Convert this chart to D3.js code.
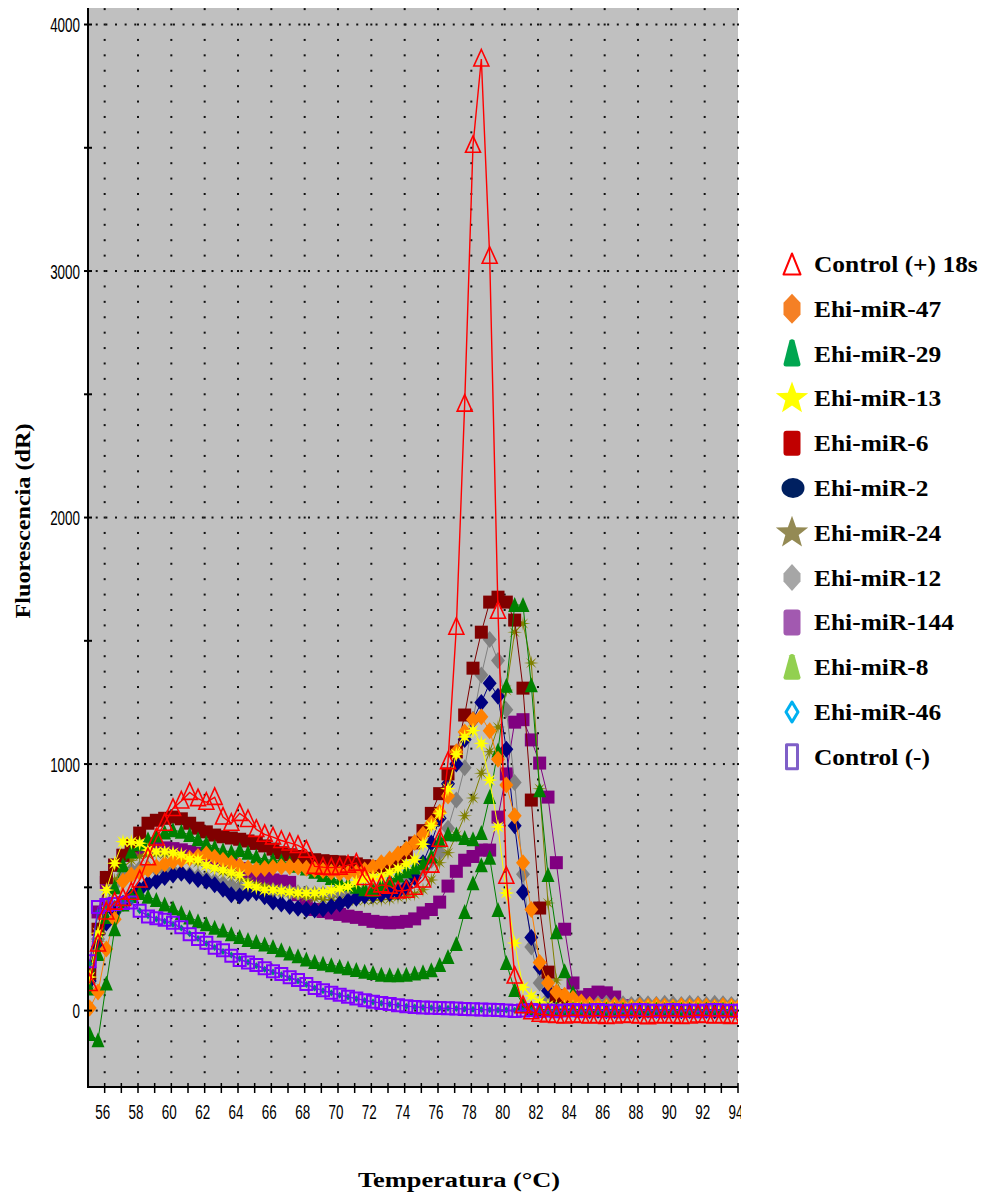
<!DOCTYPE html>
<html>
<head>
<meta charset="utf-8">
<script src="https://cdn.jsdelivr.net/npm/d3@7"></script>
<style>
  html, body { margin: 0; padding: 0; background: #fff; }
  svg { display: block; }
</style>
</head>
<body>
<svg id="chart" width="991" height="1196"></svg>
<script>
// ---------------------------------------------------------------
// Melt-curve data: -R'(T) fluorescence derivative per sample
// ---------------------------------------------------------------
const temperatures = [
  55.1, 55.6, 56.1, 56.6, 57.1, 57.6, 58.1, 58.6, 59.1, 59.6,
  60.1, 60.6, 61.1, 61.6, 62.1, 62.6, 63.1, 63.6, 64.1, 64.6,
  65.1, 65.6, 66.1, 66.6, 67.1, 67.6, 68.1, 68.6, 69.1, 69.6,
  70.1, 70.6, 71.1, 71.6, 72.1, 72.6, 73.1, 73.6, 74.1, 74.6,
  75.1, 75.6, 76.1, 76.6, 77.1, 77.6, 78.1, 78.6, 79.1, 79.6,
  80.1, 80.6, 81.1, 81.6, 82.1, 82.6, 83.1, 83.6, 84.1, 84.6,
  85.1, 85.6, 86.1, 86.6, 87.1, 87.6, 88.1, 88.6, 89.1, 89.6,
  90.1, 90.6, 91.1, 91.6, 92.1, 92.6, 93.1, 93.6, 94.1
];

const ctrlPos = [
  110, 270, 400, 440, 455, 480, 530, 620, 700, 760,
  820, 850, 885, 860, 845, 865, 785, 760, 800, 775,
  735, 715, 704, 690, 680, 670, 651, 585, 582, 580,
  582, 590, 598, 540, 495, 510, 505, 485, 488, 500,
  530, 590, 695, 1010, 1555, 2460, 3510, 3860, 3060, 1620,
  545, 140, 20, -5, -15, -18, -20, -22, -18, -20,
  -22, -20, -24, -22, -18, -20, -22, -25, -20, -22,
  -20, -24, -22, -18, -20, -22, -20, -24, -22
];

const mir47 = [
  10, 75, 250, 370, 525, 550, 560, 572, 582, 595,
  605, 612, 618, 625, 635, 622, 610, 598, 588, 578,
  572, 576, 580, 583, 583, 582, 577, 572, 568, 562,
  557, 557, 560, 570, 582, 600, 615, 635, 655, 682,
  715, 760, 805, 870, 1050, 1130, 1180, 1192, 1135, 1020,
  915, 790, 600, 410, 195, 112, 75, 62, 50, 35,
  25, 20, 18, 22, 18, 15, 20, 18, 22, 18,
  15, 20, 18, 22, 18, 15, 20, 18, 20
];

const mir29 = [
  90, 230, 380, 500, 590, 645, 675, 695, 710, 722,
  732, 725, 712, 695, 679, 663, 650, 643, 651, 640,
  625, 612, 610, 606, 598, 588, 576, 563, 550, 538,
  525, 512, 502, 492, 489, 505, 529, 548, 565, 580,
  598, 625, 690, 715, 714, 700, 695, 720, 866, 1055,
  1318, 1645, 1645, 1320, 894, 550, 318, 160, 71, 30,
  12, 6, 4, 6, 3, 5, 6, 4, 5, 3,
  6, 4, 5, 3, 6, 4, 5, 6, 4
];

const mir13 = [
  136, 314, 489, 598, 685, 684, 679, 651, 645, 645,
  640, 632, 615, 612, 590, 578, 570, 560, 550, 510,
  500, 489, 489, 485, 481, 478, 477, 477, 480, 487,
  495, 502, 522, 533, 541, 545, 560, 576, 595, 612,
  675, 750, 800, 900, 1040, 1110, 1136, 1084, 935, 745,
  477, 274, 95, 60, 35, 20, 15, 12, 14, 10,
  12, 10, 13, 11, 9, 12, 10, 13, 11, 10,
  12, 10, 13, 11, 9, 12, 10, 12, 11
];

const mir6 = [
  150, 330, 540, 590, 630, 670, 720, 760, 772, 780,
  785, 778, 760, 740, 725, 712, 705, 700, 695, 688,
  678, 668, 655, 640, 632, 625, 618, 612, 608, 605,
  603, 600, 595, 588, 582, 582, 590, 610, 640, 680,
  730, 800, 880, 960, 1049, 1199, 1389, 1535, 1657, 1677,
  1657, 1584, 1308, 854, 416, 156, 60, 20, 6, 2,
  0, 2, -2, 0, 1, -1, 0, 2, 0, -1,
  0, 1, -1, 0, 2, 0, -1, 0, 1
];

const mir2 = [
  120, 260, 355, 400, 435, 462, 489, 515, 525, 540,
  550, 557, 545, 532, 525, 510, 492, 470, 465, 475,
  478, 462, 440, 432, 422, 415, 410, 408, 412, 422,
  432, 445, 456, 465, 470, 472, 475, 482, 500, 540,
  600, 680, 780, 920, 1000, 1100, 1180, 1250, 1328, 1275,
  1060, 750, 480, 296, 176, 80, 35, 15, 5, 2,
  0, 1, -1, 0, 2, 0, -1, 1, 0, 0,
  1, -1, 0, 2, 0, -1, 0, 1, 0
];

const mir24 = [
  110, 280, 430, 530, 580, 610, 625, 632, 635, 634,
  630, 622, 612, 600, 588, 575, 562, 550, 537, 524,
  512, 502, 493, 485, 478, 470, 462, 456, 451, 448,
  446, 445, 446, 447, 448, 450, 452, 460, 465, 472,
  490, 530, 600, 640, 710, 790, 862, 963, 1050, 1150,
  1300, 1535, 1570, 1410, 900, 436, 124, 45, 20, 12,
  10, 8, 12, 10, 8, 11, 9, 12, 10, 8,
  11, 9, 12, 10, 8, 11, 10, 9, 12
];

const mir12 = [
  130, 290, 430, 510, 550, 568, 575, 576, 574, 570,
  565, 559, 552, 544, 535, 525, 515, 506, 498, 493,
  490, 488, 485, 482, 480, 478, 476, 474, 473, 473,
  475, 478, 482, 487, 492, 497, 502, 510, 522, 545,
  575, 610, 640, 740, 854, 985, 1180, 1361, 1505, 1420,
  1220, 925, 553, 258, 112, 45, 25, 22, 25, 28,
  25, 28, 30, 26, 28, 25, 30, 28, 26, 30,
  28, 25, 30, 28, 26, 30, 28, 25, 28
];

const mir144 = [
  180, 400, 520, 590, 630, 645, 652, 658, 660, 660,
  657, 652, 645, 638, 628, 616, 603, 590, 576, 562,
  548, 538, 530, 525, 520, 470, 425, 410, 402, 396,
  390, 383, 378, 370, 362, 358, 356, 358, 362, 372,
  396, 410, 440, 505, 565, 610, 625, 651, 651, 785,
  960, 1170, 1180, 1098, 1004, 866, 600, 330, 112, 55,
  65, 75, 72, 55, 20, 5, 0, 2, 0, -1,
  0, 1, 0, -1, 0, 2, 0, 1, 0
];

const mir8 = [
  -95, -120, 110, 330, 430, 465, 477, 462, 449, 430,
  415, 396, 378, 362, 350, 336, 325, 310, 298, 286,
  278, 268, 258, 245, 232, 220, 207, 197, 190, 184,
  178, 172, 165, 158, 152, 145, 143, 143, 145, 150,
  155, 164, 185, 217, 270, 400, 517, 590, 620, 408,
  193, 83, 25, 8, 5, 3, 4, 2, 5, 3,
  4, 2, 5, 3, 4, 2, 5, 3, 4, 2,
  5, 3, 4, 2, 5, 3, 4, 3, 2
];

const mir46 = [
  190, 400, 425, 435, 440, 440, 405, 385, 372, 362,
  350, 335, 312, 292, 272, 256, 240, 225, 210, 196,
  182, 168, 156, 145, 132, 120, 106, 92, 80, 71,
  62, 55, 48, 41, 35, 30, 26, 22, 18, 15,
  13, 11, 10, 9, 8, 6, 5, 4, 3, 2,
  2, 1, 0, 1, 0, -1, 0, 1, 0, -1,
  0, 1, 0, 0, 1, 0, -1, 0, 1, 0,
  0, 1, 0, -1, 0, 1, 0, 0, 1
];

const ctrlNeg = [
  200, 420, 428, 432, 436, 438, 405, 382, 375, 368,
  356, 338, 310, 290, 275, 255, 245, 222, 205, 195,
  185, 172, 160, 148, 135, 124, 108, 92, 82, 72,
  64, 56, 49, 42, 36, 31, 27, 22, 18, 15,
  13, 11, 10, 9, 8, 6, 5, 4, 3, 2,
  0, -2, 0, 2, -2, 0, -3, 0, 2, -2,
  0, 2, -2, 0, -3, 0, 2, 0, -2, 0,
  2, -2, 0, -3, 0, 2, 0, -2, 0
];

const legendLabels = [
  "Control (+) 18s", "Ehi-miR-47", "Ehi-miR-29", "Ehi-miR-13",
  "Ehi-miR-6", "Ehi-miR-2", "Ehi-miR-24", "Ehi-miR-12",
  "Ehi-miR-144", "Ehi-miR-8", "Ehi-miR-46", "Control (-)"
];

const yTickValues = [0, 1000, 2000, 3000, 4000];
const yMinorTicks = [0, 500, 1000, 1500, 2000, 2500, 3000, 3500, 4000];
const xTickLabels = [56, 58, 60, 62, 64, 66, 68, 70, 72, 74, 76, 78, 80, 82, 84, 86, 88, 90, 92, 94];
const xMinorTicks = [56, 57, 58, 59, 60, 61, 62, 63, 64, 65, 66, 67, 68, 69, 70, 71, 72, 73, 74, 75,
                     76, 77, 78, 79, 80, 81, 82, 83, 84, 85, 86, 87, 88, 89, 90, 91, 92, 93, 94];

// ---------------------------------------------------------------
// Layout and scales
// ---------------------------------------------------------------
const W = 991, H = 1196;
const plot = { left: 88, right: 738, top: 8, bottom: 1087 };

const x = d3.scaleLinear().domain([55, 94]).range([plot.left, plot.right]);
const y = d3.scaleLinear().domain([-310, 4067]).range([plot.bottom, plot.top]);

const svg = d3.select("#chart");

svg.append("rect").attr("width", W).attr("height", H).attr("fill", "#ffffff");

const defs = svg.append("defs");
defs.append("clipPath").attr("id", "plot-clip")
  .append("rect")
  .attr("x", plot.left + 1).attr("y", plot.top)
  .attr("width", plot.right - plot.left - 1).attr("height", plot.bottom - plot.top - 1);
defs.append("clipPath").attr("id", "label-clip")
  .append("rect").attr("x", 0).attr("y", 0).attr("width", 741).attr("height", H);

// grey plotting field
svg.append("rect")
  .attr("x", plot.left).attr("y", plot.top)
  .attr("width", plot.right - plot.left).attr("height", plot.bottom - plot.top)
  .attr("fill", "#c0c0c0");

// dotted grid
const grid = svg.append("g").attr("fill", "#111");
yTickValues.forEach(v => {
  const yy = y(v);
  d3.range(plot.left + 8.7, plot.right, 9.65).forEach(px => {
    grid.append("rect").attr("x", px - 1).attr("y", yy - 1).attr("width", 2).attr("height", 2);
  });
});
xTickLabels.forEach(t => {
  const xx = x(t);
  d3.range(-250, 4070, 62.5).forEach(v => {
    const yy = y(v);
    if (yy < plot.top + 1 || yy > plot.bottom - 3) return;
    grid.append("rect").attr("x", xx - 1).attr("y", yy - 1).attr("width", 2).attr("height", 2);
  });
});

// ---------------------------------------------------------------
// Marker shapes
// ---------------------------------------------------------------
function starPath(n, rOuter, rInner) {
  const pts = [];
  for (let i = 0; i < 2 * n; i++) {
    const r = i % 2 ? rInner : rOuter;
    const a = -Math.PI / 2 + i * Math.PI / n;
    pts.push((r * Math.cos(a)).toFixed(2) + "," + (r * Math.sin(a)).toFixed(2));
  }
  return "M" + pts.join("L") + "Z";
}

const shapes = {
  triOpen: "M0,-9.5L7.5,7L-7.5,7Z",
  diamond: "M0,-8.5L7,0L0,8.5L-7,0Z",
  square: "M-6.5,-6.5H6.5V6.5H-6.5Z",
  triFill: "M0,-8L6.5,7L-6.5,7Z",
  star: starPath(8, 8, 3),
  starThin: starPath(8, 7.5, 2),
  sqOpen: "M-6,-6H6V6H-6Z",
  tiny: "M0,-3.5L3,0L0,3.5L-3,0Z"
};

// drawing order: first entry sits at the bottom
const seriesList = [
  { values: mir144, color: "#800080", shape: "square" },
  { values: mir12,  color: "#808080", shape: "diamond" },
  { values: mir24,  color: "#808000", shape: "starThin" },
  { values: mir2,   color: "#000080", shape: "diamond" },
  { values: mir6,   color: "#800000", shape: "square" },
  { values: mir29,  color: "#008000", shape: "triFill" },
  { values: mir47,  color: "#ff8000", shape: "diamond" },
  { values: mir13,  color: "#ffff00", shape: "star" },
  { values: mir8,   color: "#008000", shape: "triFill" },
  { values: mir46,  color: "#008080", shape: "tiny" },
  { values: ctrlNeg, color: "#8000ff", shape: "sqOpen", open: true, sw: 2 },
  { values: ctrlPos, color: "#ff0000", shape: "triOpen", open: true, sw: 1.6, lw: 1.4 }
];

const line = d3.line().x(d => x(d[0])).y(d => y(d[1]));

const marks = svg.append("g").attr("clip-path", "url(#plot-clip)");

seriesList.forEach(s => {
  const pts = temperatures.map((t, i) => [t, s.values[i]]);
  const g = marks.append("g");
  g.append("path")
    .attr("d", line(pts))
    .attr("fill", "none")
    .attr("stroke", s.color)
    .attr("stroke-width", s.lw || 1);
  g.selectAll("path.m")
    .data(pts)
    .join("path")
    .attr("class", "m")
    .attr("d", shapes[s.shape])
    .attr("transform", d => `translate(${x(d[0]).toFixed(2)},${y(d[1]).toFixed(2)})`)
    .attr("fill", s.open ? "none" : s.color)
    .attr("stroke", s.open ? s.color : "none")
    .attr("stroke-width", s.sw || 0);
});

// ---------------------------------------------------------------
// Axes
// ---------------------------------------------------------------
const axes = svg.append("g").attr("stroke", "#000");
axes.append("line")
  .attr("x1", plot.left).attr("x2", plot.left)
  .attr("y1", plot.top).attr("y2", plot.bottom + 1)
  .attr("stroke-width", 2);
axes.append("line")
  .attr("x1", plot.left - 1).attr("x2", plot.right)
  .attr("y1", plot.bottom).attr("y2", plot.bottom)
  .attr("stroke-width", 2);

yMinorTicks.forEach(v => {
  axes.append("line")
    .attr("x1", plot.left - 4).attr("x2", plot.left + 4)
    .attr("y1", y(v)).attr("y2", y(v))
    .attr("stroke-width", 2);
});
xMinorTicks.forEach(t => {
  axes.append("line")
    .attr("x1", x(t)).attr("x2", x(t))
    .attr("y1", plot.bottom - 4).attr("y2", plot.bottom + 6)
    .attr("stroke-width", 1.5);
});

const tickFont = "'Liberation Sans', Arial, sans-serif";
const yLab = svg.append("g")
  .attr("font-family", tickFont).attr("font-size", 21).attr("fill", "#000");
yTickValues.forEach(v => {
  yLab.append("text")
    .attr("transform", `translate(80,${y(v) + 7.5}) scale(0.64,1)`)
    .attr("text-anchor", "end")
    .text(v);
});

const xLab = svg.append("g")
  .attr("clip-path", "url(#label-clip)")
  .attr("font-family", tickFont).attr("font-size", 21).attr("fill", "#000");
xTickLabels.forEach(t => {
  xLab.append("text")
    .attr("transform", `translate(${x(t) - 2},${1119}) scale(0.64,1)`)
    .attr("text-anchor", "middle")
    .text(t);
});

// axis titles
const titleFont = "'Liberation Serif', 'Times New Roman', serif";
svg.append("text")
  .attr("transform", "translate(30,521) rotate(-90) scale(1.1,1)")
  .attr("text-anchor", "middle")
  .attr("font-family", titleFont).attr("font-weight", "bold").attr("font-size", 22)
  .text("Fluorescencia (dR)");

svg.append("text")
  .attr("transform", "translate(459,1187) scale(1.2,1)")
  .attr("text-anchor", "middle")
  .attr("font-family", titleFont).attr("font-weight", "bold").attr("font-size", 22)
  .text("Temperatura (°C)");

// ---------------------------------------------------------------
// Legend
// ---------------------------------------------------------------
const legendMarks = [
  { d: "M0,-10.5L8.5,10.5L-8.5,10.5Z", fill: "none", stroke: "#ff0000", sw: 2 },
  { d: "M0,-15L8.5,-6L8.5,6L0,15L-8.5,6L-8.5,-6Z", fill: "#f58025" },
  { d: "M-2.5,-13Q0,-15.5 2.5,-13L8.5,10.5Q8.5,13 6,13L-6,13Q-8.5,13 -8.5,10.5Z", fill: "#00a650" },
  { d: starPath(5, 17, 7), fill: "#ffff00" },
  { d: "M-5.5,-12.5H5.5Q8.5,-12.5 8.5,-9.5V9.5Q8.5,12.5 5.5,12.5H-5.5Q-8.5,12.5 -8.5,9.5V-9.5Q-8.5,-12.5 -5.5,-12.5Z", fill: "#c00000" },
  { ellipse: true, fill: "#002060" },
  { d: starPath(5, 17, 7), fill: "#948a54" },
  { d: "M0,-13.5L8.5,-4L8.5,4L0,13.5L-8.5,4L-8.5,-4Z", fill: "#a6a6a6" },
  { d: "M-5.5,-13H5.5Q8.5,-13 8.5,-10V10Q8.5,13 5.5,13H-5.5Q-8.5,13 -8.5,10V-10Q-8.5,-13 -5.5,-13Z", fill: "#a259b0" },
  { d: "M-2.5,-12Q0,-14.5 2.5,-12L8.5,10Q8.5,12.5 6,12.5L-6,12.5Q-8.5,12.5 -8.5,10Z", fill: "#92d050" },
  { d: "M0,-10L6,0L0,10L-6,0Z", fill: "none", stroke: "#00b0f0", sw: 3 },
  { d: "M-5.5,-12H5.5V12H-5.5Z", fill: "none", stroke: "#7f5fc8", sw: 3 }
];

const legend = svg.append("g");
legendLabels.forEach((label, i) => {
  const cy = 264 + i * 44.8;
  const m = legendMarks[i];
  if (m.ellipse) {
    legend.append("ellipse").attr("cx", 793).attr("cy", cy)
      .attr("rx", 11.5).attr("ry", 10).attr("fill", m.fill);
  } else {
    legend.append("path")
      .attr("d", m.d)
      .attr("transform", `translate(792,${cy})`)
      .attr("fill", m.fill)
      .attr("stroke", m.stroke || "none")
      .attr("stroke-width", m.sw || 0)
      .attr("stroke-linejoin", "round");
  }
  legend.append("text")
    .attr("transform", `translate(814,${cy + 8}) scale(1.06,1)`)
    .attr("font-family", titleFont).attr("font-weight", "bold").attr("font-size", 24)
    .attr("fill", "#000")
    .text(label);
});
</script>
</body>
</html>
